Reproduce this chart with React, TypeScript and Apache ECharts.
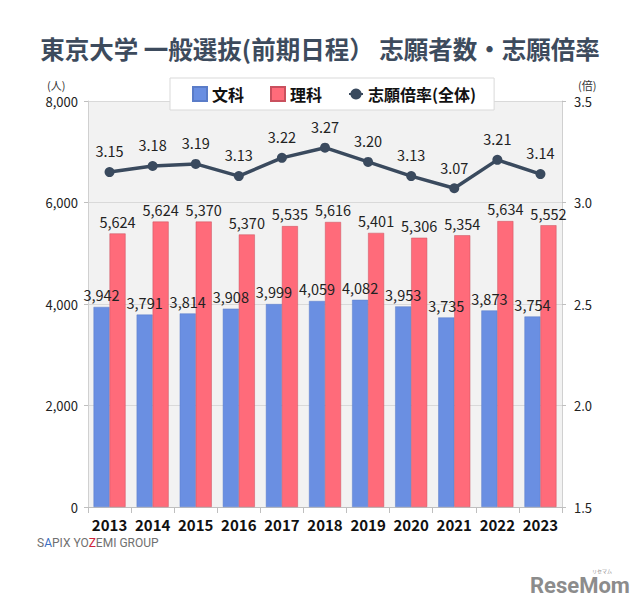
import React, { useEffect, useRef } from "react";
import * as echarts from "echarts";

const years = ["2013", "2014", "2015", "2016", "2017", "2018", "2019", "2020", "2021", "2022", "2023"];
const bunkaValues = [3942, 3791, 3814, 3908, 3999, 4059, 4082, 3953, 3735, 3873, 3754];
const bunkaLabels = ["3,942", "3,791", "3,814", "3,908", "3,999", "4,059", "4,082", "3,953", "3,735", "3,873", "3,754"];
const rikaValues = [5390, 5624, 5624, 5370, 5535, 5616, 5401, 5306, 5354, 5634, 5552];
const rikaLabels = ["5,624", "5,624", "5,370", "5,370", "5,535", "5,616", "5,401", "5,306", "5,354", "5,634", "5,552"];
const rateValues = [3.15, 3.18, 3.19, 3.13, 3.22, 3.27, 3.2, 3.13, 3.07, 3.21, 3.14];
const leftTicks = ["0", "2,000", "4,000", "6,000", "8,000"];
const rightTicks = ["1.5", "2.0", "2.5", "3.0", "3.5"];

const FONT = "'Noto Sans CJK JP', 'Noto Sans', sans-serif";

export default function App() {
  const ref = useRef<HTMLDivElement>(null);
  useEffect(() => {
    if (!ref.current) return;
    const chart = echarts.init(ref.current, null, { renderer: "svg" });
    chart.setOption({
      animation: false,
      backgroundColor: "#ffffff",
      textStyle: { fontFamily: FONT },
      title: {
        text: "東京大学 一般選抜(前期日程） 志願者数・志願倍率",
        left: "center",
        top: 31,
        textStyle: { fontSize: 24.5, fontWeight: "bold", color: "#3d4b5d", fontFamily: FONT },
      },
      legend: {
        left: 170,
        top: 78,
        width: 400,
        orient: "horizontal",
        padding: [8, 18, 8, 22],
        itemGap: 26,
        itemWidth: 14,
        itemHeight: 14,
        borderColor: "#d9d9d9",
        borderWidth: 1,
        backgroundColor: "#ffffff",
        textStyle: { fontSize: 16, fontWeight: "bold", color: "#111", fontFamily: FONT },
        data: [
          { name: "文科", icon: "rect" },
          { name: "理科", icon: "rect" },
          { name: "志願倍率(全体)" },
        ],
      },
      grid: {
        left: 88,
        right: 78,
        top: 101,
        bottom: 103,
        show: true,
        backgroundColor: "#f2f2f2",
        borderWidth: 0,
      },
      xAxis: {
        type: "category",
        data: years,
        axisLine: { show: true, lineStyle: { color: "#bfbfbf" } },
        axisTick: { show: true, length: 6, lineStyle: { color: "#bfbfbf" } },
        axisLabel: { interval: 0, fontSize: 15, fontWeight: "bold", color: "#111", margin: 10, fontFamily: FONT },
      },
      yAxis: [
        {
          type: "value",
          min: 0,
          max: 8000,
          interval: 2000,
          axisLine: { show: true, lineStyle: { color: "#d0d0d0" } },
          axisTick: { show: true, length: 4, lineStyle: { color: "#bfbfbf" } },
          axisLabel: {
            fontSize: 13,
            color: "#222",
            margin: 10,
            fontFamily: FONT,
            formatter: (v: number) => leftTicks[Math.round(v / 2000)] ?? "",
          },
          splitLine: { show: true, lineStyle: { color: "#d9d9d9", width: 1 } },
        },
        {
          type: "value",
          min: 1.5,
          max: 3.5,
          interval: 0.5,
          axisLine: { show: true, lineStyle: { color: "#d0d0d0" } },
          axisTick: { show: true, length: 4, lineStyle: { color: "#bfbfbf" } },
          axisLabel: {
            fontSize: 13,
            color: "#222",
            margin: 12,
            fontFamily: FONT,
            formatter: (v: number) => rightTicks[Math.round((v - 1.5) / 0.5)] ?? "",
          },
          splitLine: { show: false },
        },
      ],
      series: [
        {
          name: "文科",
          type: "bar",
          data: bunkaValues,
          barWidth: 16,
          barGap: "0%",
          itemStyle: { color: "#6a8fe2", borderColor: "#5a7cc8", borderWidth: 0.5 },
          label: {
            show: true,
            position: "top",
            distance: 5,
            fontSize: 14.5,
            color: "#222",
            fontFamily: FONT,
            formatter: (p: any) => bunkaLabels[p.dataIndex],
          },
        },
        {
          name: "理科",
          type: "bar",
          data: rikaValues,
          barWidth: 16,
          itemStyle: { color: "#ff6b7a", borderColor: "#c9505e", borderWidth: 0.5 },
          label: {
            show: true,
            position: "top",
            distance: 5,
            fontSize: 14.5,
            color: "#222",
            fontFamily: FONT,
            formatter: (p: any) => rikaLabels[p.dataIndex],
          },
        },
        {
          name: "志願倍率(全体)",
          type: "line",
          yAxisIndex: 1,
          data: rateValues,
          symbol: "circle",
          symbolSize: 10,
          lineStyle: { color: "#3a4a5e", width: 3.5 },
          itemStyle: { color: "#3a4a5e" },
          label: {
            show: true,
            position: "top",
            distance: 9,
            fontSize: 14.5,
            color: "#222",
            fontFamily: FONT,
            formatter: (p: any) => rateValues[p.dataIndex].toFixed(2),
          },
        },
      ],
      graphic: [
        {
          type: "text",
          left: 47,
          top: 79,
          style: { text: "(人)", fontSize: 11, fill: "#333", fontFamily: FONT },
        },
        {
          type: "text",
          left: 578,
          top: 79,
          style: { text: "(倍)", fontSize: 11, fill: "#333", fontFamily: FONT },
        },
        {
          type: "text",
          left: 37,
          top: 537,
          style: {
            text: "{g|S}{b|A}{g|PIX YO}{r|Z}{g|EMI GROUP}",
            fontFamily: "Roboto, sans-serif",
            rich: {
              g: { fontSize: 12, fill: "#707070", fontFamily: "Roboto, sans-serif" },
              b: { fontSize: 12, fill: "#3b6fc4", fontFamily: "Roboto, sans-serif" },
              r: { fontSize: 12, fill: "#d0243a", fontFamily: "Roboto, sans-serif" },
            },
          },
        },
        {
          type: "text",
          left: 530,
          top: 574,
          style: {
            text: "ReseMom",
            fontSize: 22,
            fontWeight: "bold",
            fill: "#8c8c8c",
            fontFamily: "'Roboto', sans-serif",
          },
        },
        {
          type: "text",
          left: 592,
          top: 568,
          style: { text: "リセマム", fontSize: 5, fill: "#8c8c8c", fontFamily: FONT },
        },
      ],
    });
    return () => chart.dispose();
  }, []);
  return (
    <div
      ref={ref}
      style={{ position: "fixed", left: 0, top: 0, width: 640, height: 610 }}
    />
  );
}
